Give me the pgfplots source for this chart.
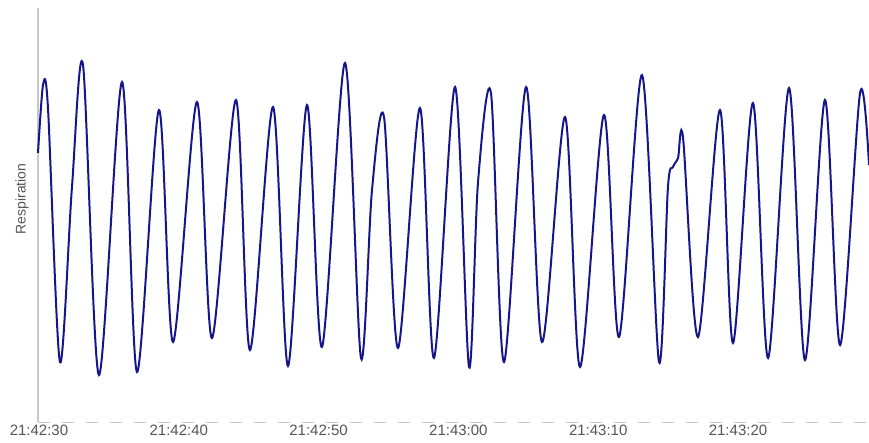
\documentclass[border=0pt]{standalone}
\usepackage{pgfplots}
\pgfplotsset{compat=1.18}
\usepackage{fontspec}
\setmainfont{Liberation Sans}
\definecolor{resp}{RGB}{22,22,140}
\definecolor{axisgray}{RGB}{200,200,200}
\definecolor{labgray}{RGB}{85,85,85}
\begin{document}
\begin{tikzpicture}[x=1pt,y=1pt]
\begin{axis}[
  at={(38pt,20pt)}, anchor=south west,
  scale only axis, width=831pt, height=414pt,
  xmin=-0.07, xmax=59.37, ymin=0, ymax=414,
  axis x line=bottom, axis y line=left,
  axis line style={-},
  x axis line style={draw=axisgray, line width=0.8pt, dash pattern=on 12pt off 12pt},
  y axis line style={draw=axisgray, line width=1.4pt},
  xtick={0,10,20,30,40,50},
  xticklabels={21:42:30,21:42:40,21:42:50,21:43:00,21:43:10,21:43:20},
  ytick=\empty,
  major tick length=0pt,
  tick style={draw=none},
  xticklabel style={font=\fontsize{15}{17}\selectfont, text=labgray, inner sep=3pt},
  ylabel={Respiration},
  ylabel style={at={(axis description cs:-0.0193,0.539)}, anchor=center, font=\fontsize{14}{16}\selectfont, text=labgray},
  clip=false,
]
\addplot[resp, line width=2pt, smooth] coordinates {
(-0.07,269) (0.29,337) (0.64,315) (1.50,60) (2.36,235) (3.15,357) (4.29,47)
(5.94,340) (7.01,50) (8.58,312) (9.59,80) (11.30,320) (12.37,84)
(14.09,322) (15.09,72) (16.74,315) (17.81,56) (19.17,317) (20.24,75)
(21.89,359) (23.03,64) (23.82,232) (24.68,305) (25.68,74) (27.25,314)
(28.25,64) (29.76,335) (30.76,55) (31.40,239) (32.33,329) (33.26,60)
(34.84,335) (35.98,80) (37.63,305) (38.70,55) (40.41,307) (41.49,85)
(43.13,347) (44.35,60) (44.99,235) (45.35,255) (45.71,264) (46.07,284) (47.14,85)
(48.71,312) (49.64,79) (51.07,319) (52.15,64) (53.65,334) (54.79,62)
(56.22,322) (57.30,77) (58.73,329) (59.37,257)
};
\end{axis}
\pgfresetboundingbox
\path (0,0) rectangle (869,442);
\end{tikzpicture}
\end{document}
